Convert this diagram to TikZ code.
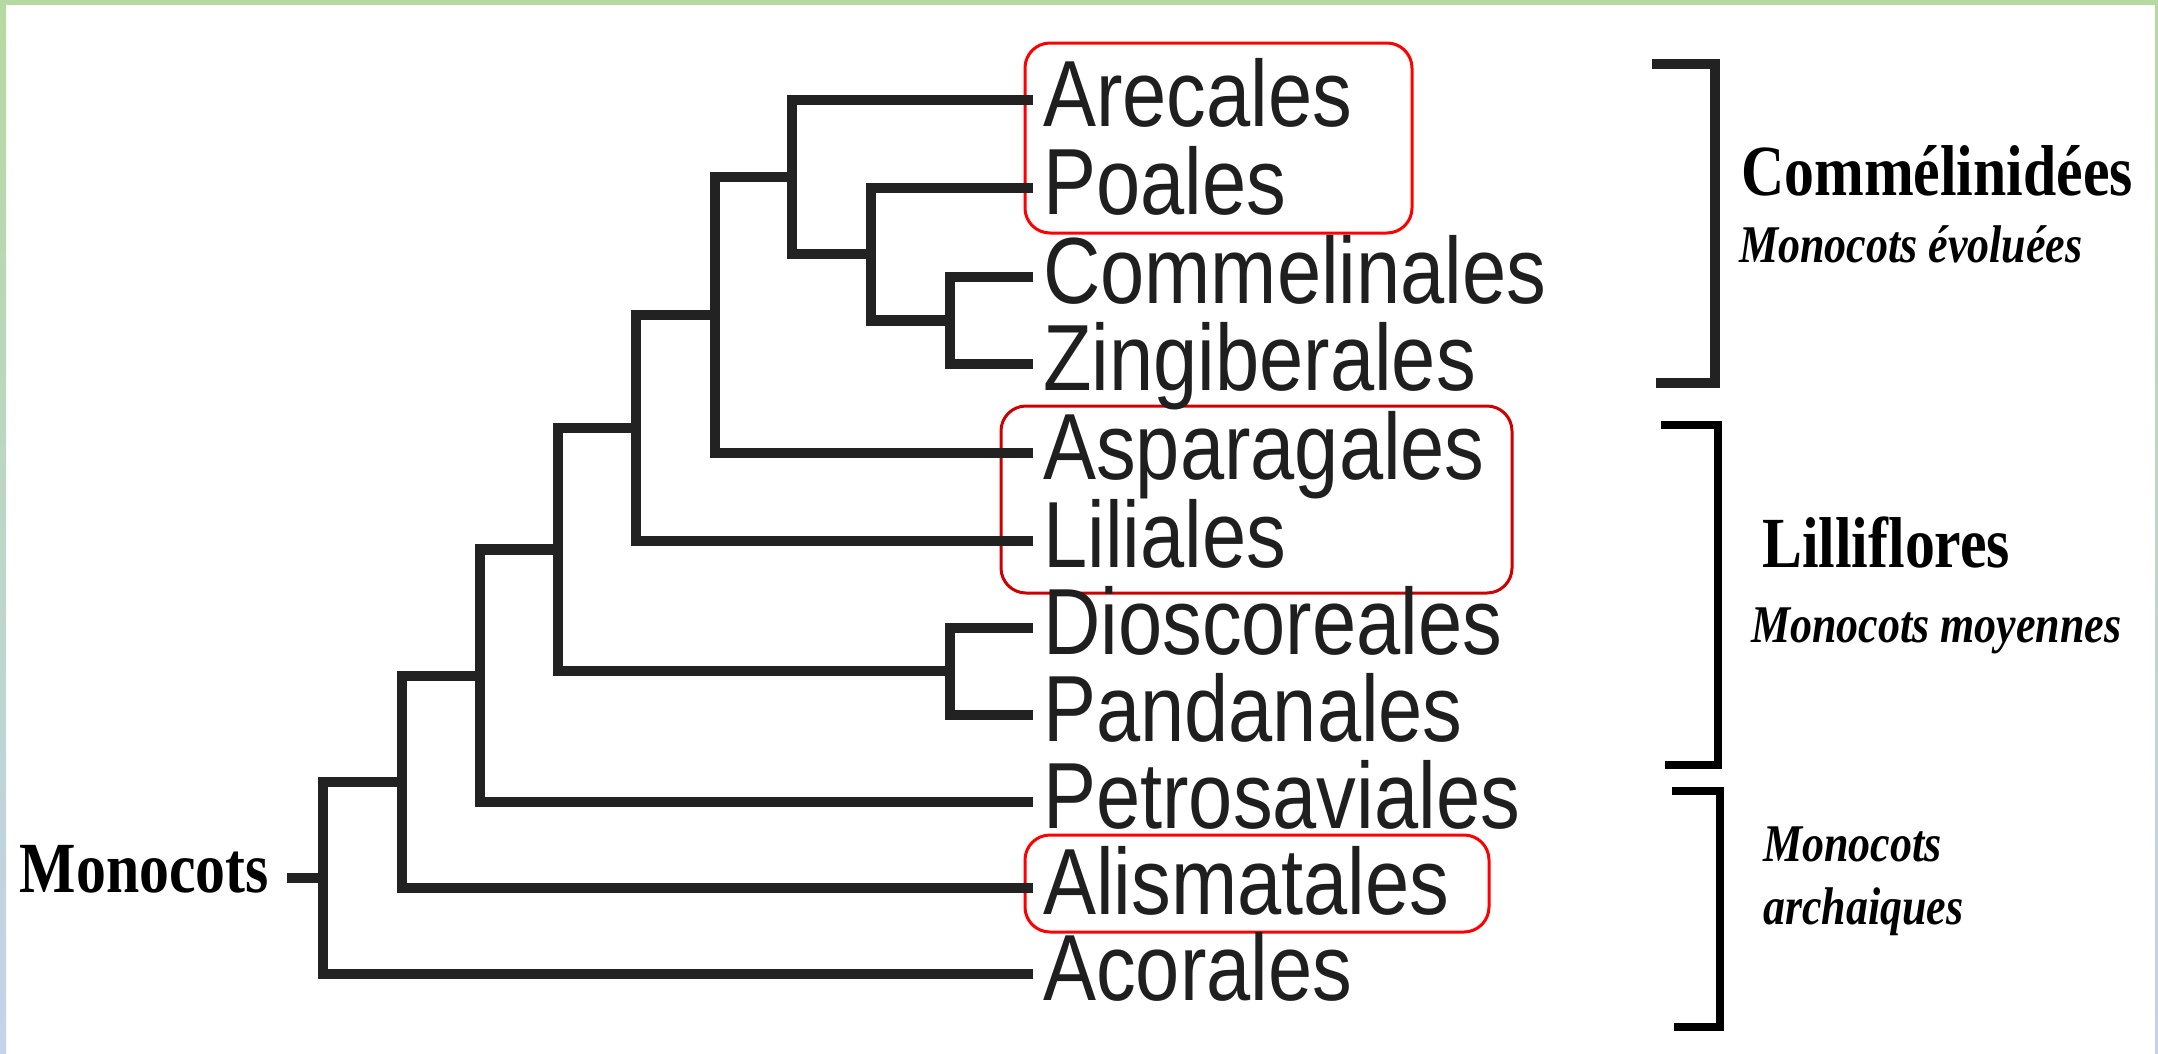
\documentclass[tikz,border=0pt]{standalone}
\usepackage{fontspec}
\newfontfamily\cladefont[FakeStretch=0.845]{Liberation Sans}
\newfontfamily\groupfont[FakeStretch=0.83]{Liberation Serif}
\usetikzlibrary{positioning}
\definecolor{branchgray}{HTML}{222222}
\definecolor{framegreen}{HTML}{B6D9A1}
\definecolor{frameblue}{HTML}{C3D3EA}
\tikzstyle{branch}=[draw=branchgray,line width=10.5pt,line join=miter]
\tikzstyle{leaf}=[anchor=west,inner xsep=10pt,inner ysep=0pt,text height=52pt,text depth=0pt,text=black!88,font=\cladefont\fontsize{94}{100}\selectfont]
\tikzstyle{hilite}=[draw=red,line width=3pt,rounded corners=25pt]
\tikzstyle{bracket}=[draw=branchgray,line width=10pt]
\tikzstyle{group}=[anchor=base west,inner sep=0pt,font=\groupfont\bfseries\fontsize{72}{80}\selectfont]
\tikzstyle{grade}=[anchor=base west,inner sep=0pt,font=\groupfont\bfseries\itshape\fontsize{53}{63}\selectfont]
\newcommand{\drawclades}[1]{
	\foreach \n/\a/\b in {#1}{
		\draw[branch] (\a) -| (\n) |- (\b);
	}
}

\begin{document}
\begin{tikzpicture}[x=1pt,y=-1pt]
\useasboundingbox (0,0) rectangle (2158,1053);
\fill[framegreen] (0,0) rectangle (2158,5);
\shade[top color=framegreen,bottom color=frameblue] (0,0) rectangle (6,1053);
\shade[top color=framegreen,bottom color=frameblue] (2155,0) rectangle (2158,1053);

% highlighted orders
\draw[hilite] (1025,43) rectangle (1412,233);
\draw[hilite,draw=red!80!black] (1001,406) rectangle (1512,593);
\draw[hilite] (1025,835) rectangle (1489,932);

% leaves
\foreach \name/\txt/\y in {are/Arecales/100, poa/Poales/188, com/Commelinales/277, zin/Zingiberales/364, asp/Asparagales/453, lil/Liliales/541, dio/Dioscoreales/628, pan/Pandanales/715, pet/Petrosaviales/802, ali/Alismatales/888, aco/Acorales/974}
	\node[leaf] (\name) at (1033,\y) {\txt};

% inner nodes of the tree
\coordinate (commzing) at (950,320.5);
\coordinate (poacz) at (871,254);
\coordinate (commelinids) at (792,177);
\coordinate (plusasp) at (715,315);
\coordinate (pluslil) at (636,428);
\coordinate (diopan) at (950,671);
\coordinate (lilliflores) at (558,549.5);
\coordinate (pluspet) at (480,676);
\coordinate (plusali) at (402,782);
\coordinate (root) at (323,878);

\drawclades{commzing/com.west/zin.west, poacz/poa.west/commzing, commelinids/are.west/poacz, plusasp/commelinids/asp.west, pluslil/plusasp/lil.west, diopan/dio.west/pan.west, lilliflores/pluslil/diopan, pluspet/lilliflores/pet.west, plusali/pluspet/ali.west, root/plusali/aco.west}

\node[group,anchor=east,inner xsep=18pt,text height=28pt,text depth=0pt] (monocots) at (287,878) {Monocots};
\draw[branch] (monocots.east) -- (root);

% groups on the right
\draw[bracket] (1652,64) -- (1715,64) -- (1715,383) -- (1656,383);
\draw[bracket,draw=black,line width=8pt] (1661,425) -- (1718,425) -- (1718,765) -- (1665,765);
\draw[bracket,draw=black,line width=8pt] (1672,791) -- (1720,791) -- (1720,1027) -- (1674,1027);

\node[group] (commelinidees) at (1741,195) {Commélinidées};
\node[grade] (evoluees) at (1739,262) {Monocots évoluées};
\node[group] (lilliflo) at (1762,567) {Lilliflores};
\node[grade] (moyennes) at (1751,642) {Monocots moyennes};
\node[grade,align=left,anchor=north west] (archaiques) at (1763,827) {Monocots\\archaiques};
\end{tikzpicture}
\end{document}
